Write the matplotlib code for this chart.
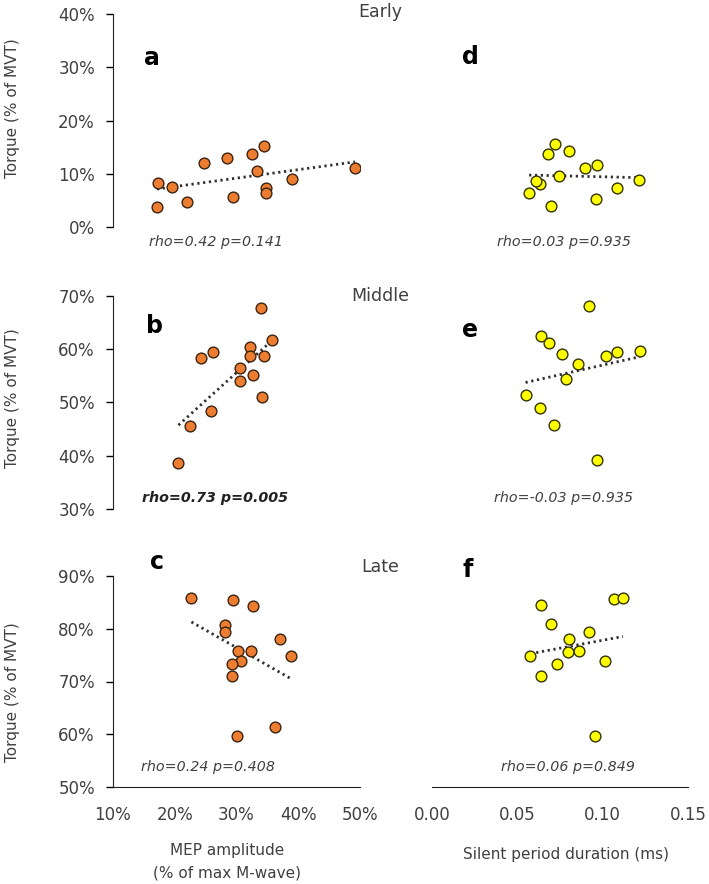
import matplotlib
matplotlib.use("Agg")
import matplotlib.pyplot as plt
import numpy as np

# MEP amplitude (% of max M-wave) vs torque (% of MVT)
a_x = [17.1, 17.3, 19.6, 22.0, 24.7, 28.4, 29.4, 32.5, 33.3, 34.5, 34.8, 34.7, 39.0, 49.2]
a_y = [3.8, 8.3, 7.5, 4.7, 12.0, 12.9, 5.6, 13.7, 10.5, 15.2, 7.3, 6.4, 9.0, 11.0]
b_x = [34.0, 35.7, 32.2, 32.2, 34.5, 26.2, 24.2, 30.5, 30.5, 32.7, 34.2, 25.9, 22.5, 20.6]
b_y = [67.7, 61.7, 60.5, 58.7, 58.7, 59.4, 58.4, 56.4, 54.0, 55.1, 51.1, 48.4, 45.5, 38.6]
c_x = [22.7, 29.5, 32.6, 28.2, 28.2, 37.0, 38.8, 30.2, 32.3, 30.8, 29.3, 29.3, 36.3, 30.0]
c_y = [85.8, 85.5, 84.4, 80.8, 79.3, 78.1, 74.8, 75.8, 75.8, 73.9, 73.4, 71.0, 61.4, 59.7]

# silent period duration (ms) vs torque
d_x = [0.0723, 0.068, 0.0803, 0.0899, 0.0969, 0.0743, 0.0632, 0.0610, 0.0569, 0.070, 0.0959, 0.1086, 0.1212]
d_y = [15.6, 13.7, 14.3, 11.0, 11.6, 9.6, 8.1, 8.6, 6.4, 4.0, 5.3, 7.3, 8.9]
e_x = [0.0918, 0.0641, 0.0684, 0.0764, 0.0856, 0.1022, 0.1084, 0.122, 0.0788, 0.0548, 0.0632, 0.0713, 0.0969]
e_y = [68.1, 62.4, 61.1, 59.2, 57.2, 58.8, 59.5, 59.7, 54.4, 51.4, 48.9, 45.8, 39.2]
f_x = [0.0641, 0.1064, 0.1119, 0.070, 0.0918, 0.0803, 0.0860, 0.0794, 0.0577, 0.0735, 0.1012, 0.0641, 0.0953]
f_y = [84.5, 85.6, 85.8, 80.9, 79.4, 78.1, 75.8, 75.5, 74.8, 73.4, 73.9, 71.1, 59.7]

ylims = [(0, 40), (30, 70), (50, 90)]
letters_left = ["a", "b", "c"]
letters_right = ["d", "e", "f"]
phases = ["Early", "Middle", "Late"]
stats_left = ["rho=0.42 p=0.141", "rho=0.73 p=0.005", "rho=0.24 p=0.408"]
stats_right = ["rho=0.03 p=0.935", "rho=-0.03 p=0.935", "rho=0.06 p=0.849"]

W, H = 709, 884
fig = plt.figure(figsize=(W / 100, H / 100), dpi=100)
plt.rcParams['font.family'] = ['DejaVu Sans']

def fx(px):
    return px / W

def fy(py):
    return 1 - py / H

txt = '#404040'
orange = '#ED7D31'
yellow = '#FFFF00'

# pixel boxes (top, bottom) for each row
rows = [(14, 227), (296, 509), (576, 787)]
left_x = (113, 360)
right_x = (432, 688)

def trend(ax, x, y):
    x = np.array(x); y = np.array(y)
    k, b = np.polyfit(x, y, 1)
    xs = np.array([x.min(), x.max()])
    ax.plot(xs, k * xs + b, color='#303030', lw=2, linestyle=(0, (0.8, 1.3)), zorder=3)

left_data = [(a_x, a_y), (b_x, b_y), (c_x, c_y)]
right_data = [(d_x, d_y), (e_x, e_y), (f_x, f_y)]

for i in range(3):
    top, bot = rows[i]
    # left column
    ax = fig.add_axes([fx(left_x[0]), fy(bot), fx(left_x[1] - left_x[0]), (bot - top) / H])
    x, y = left_data[i]
    ax.scatter(x, y, s=60, color=orange, edgecolor='#3b2412', linewidth=1.0, zorder=4)
    trend(ax, x, y)
    ax.set_xlim(10, 50)
    ax.set_ylim(*ylims[i])
    ax.set_yticks(np.arange(ylims[i][0], ylims[i][1] + 1, 10))
    ax.set_yticklabels([f"{v}%" for v in range(ylims[i][0], ylims[i][1] + 1, 10)])
    ax.tick_params(axis='y', length=5, width=1, pad=8, labelsize=12, labelcolor=txt)
    ax.spines['top'].set_visible(False)
    ax.spines['right'].set_visible(False)
    ax.spines['left'].set_color('#222222')
    if i < 2:
        ax.spines['bottom'].set_visible(False)
        ax.set_xticks([])
    else:
        ax.spines['bottom'].set_color('#222222')
        ax.set_xticks([10, 20, 30, 40, 50])
        ax.set_xticklabels(["10%", "20%", "30%", "40%", "50%"])
        ax.tick_params(axis='x', length=0, pad=14, labelsize=12, labelcolor=txt)
    ax.patch.set_alpha(0)

    # right column
    ax2 = fig.add_axes([fx(right_x[0]), fy(bot), fx(right_x[1] - right_x[0]), (bot - top) / H])
    x, y = right_data[i]
    ax2.scatter(x, y, s=60, color=yellow, edgecolor='#333300', linewidth=1.0, zorder=4)
    trend(ax2, x, y)
    ax2.set_xlim(0, 0.15)
    ax2.set_ylim(*ylims[i])
    ax2.set_yticks([])
    for s in ['top', 'right', 'left']:
        ax2.spines[s].set_visible(False)
    if i < 2:
        ax2.spines['bottom'].set_visible(False)
        ax2.set_xticks([])
    else:
        ax2.spines['bottom'].set_color('#222222')
        ax2.set_xticks([0, 0.05, 0.10, 0.15])
        ax2.set_xticklabels(["0.00", "0.05", "0.10", "0.15"])
        ax2.tick_params(axis='x', length=0, pad=14, labelsize=12, labelcolor=txt)
    ax2.patch.set_alpha(0)

# phase titles
for name, py in zip(phases, [12, 296, 567]):
    fig.text(fx(380), fy(py), name, ha='center', va='center', fontsize=12.5, color=txt)

# panel letters
for l, (px, py) in zip(letters_left, [(152, 58), (154, 326), (157, 562)]):
    fig.text(fx(px), fy(py), l, ha='center', va='center', fontsize=17, fontweight='bold', color='black')
for l, (px, py) in zip(letters_right, [(470, 57), (470, 330), (468, 570)]):
    fig.text(fx(px), fy(py), l, ha='center', va='center', fontsize=17, fontweight='bold', color='black')

# statistics
for j, (s, (px, py)) in enumerate(zip(stats_left, [(216, 242), (215, 498), (208, 767)])):
    fig.text(fx(px), fy(py), s, ha='center', va='center', fontsize=10.3, style='italic',
             fontweight='bold' if j == 1 else 'normal', color='#222222' if j == 1 else txt)
for s, (px, py) in zip(stats_right, [(564, 242), (564, 498), (568, 767)]):
    fig.text(fx(px), fy(py), s, ha='center', va='center', fontsize=10.3, style='italic', color=txt)

# y labels
for py in [108, 398, 692]:
    fig.text(fx(13), fy(py), "Torque (% of MVT)", rotation=90, ha='center', va='center',
             fontsize=11, color=txt)

# x labels
fig.text(fx(227), fy(850), "MEP amplitude", ha='center', va='center', fontsize=11, color=txt)
fig.text(fx(227), fy(873), "(% of max M-wave)", ha='center', va='center', fontsize=11, color=txt)
fig.text(fx(566), fy(855), "Silent period duration (ms)", ha='center', va='center', fontsize=11, color=txt)

fig.savefig("out.png", dpi=100, facecolor='white')
